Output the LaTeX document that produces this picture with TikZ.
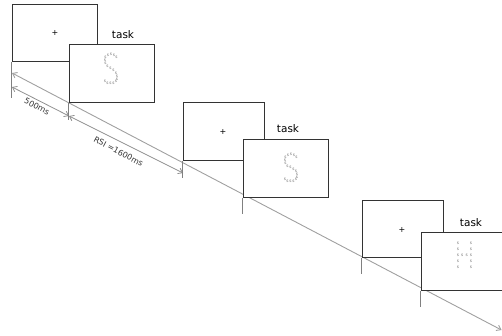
\documentclass[tikz,border=0pt]{standalone}
\usepackage{fontspec}
\setmainfont{DejaVu Sans}
\usetikzlibrary{arrows.meta}
\definecolor{boxc}{HTML}{333333}
\definecolor{linec}{HTML}{A0A0A0}
\definecolor{arrc}{HTML}{909090}
\definecolor{tickc}{HTML}{808080}
\definecolor{dotc}{HTML}{6E6E6E}
\tikzset{
  screen/.style={draw=boxc, line width=0.9pt, fill=white, inner sep=0pt, minimum width=#1, minimum height=57.5pt},
  screen/.default=85pt,
  lbl/.style={font=\fontsize{10.5}{12}\selectfont, text=black, inner sep=0pt},
  fix/.style={font=\fontsize{8}{9}\selectfont, inner sep=0pt},
  dot/.style={font=\fontsize{4.2}{4.2}\selectfont, text=dotc, inner sep=0pt},
  tickline/.style={draw=tickc, line width=0.8pt},
  timeline/.style={draw=linec, line width=0.9pt, {Straight Barb[length=4pt,width=6pt]}-{Straight Barb[length=4pt,width=6pt]}},
  durarrow/.style={draw=arrc, line width=0.8pt, {Straight Barb[length=4pt,width=6pt]}-{Straight Barb[length=4pt,width=6pt]}},
  durlbl/.style={font=\fontsize{8}{9}\selectfont, text=black!80, inner sep=0pt, rotate=-28}
}
\begin{document}
\begin{tikzpicture}[x=1pt,y=-1pt]
\useasboundingbox (0,0) rectangle (502,335);
% timeline and duration arrows
\coordinate (tl0) at (12,73);
\coordinate (tl1) at (501.5,330);
\draw[timeline] (tl0) -- (tl1);
\coordinate (d0) at (12,87);
\coordinate (d1) at (69,116);
\coordinate (d2) at (183,173);
\draw[durarrow] (d0) -- (d1);
\draw[durarrow] (d1) -- (d2);
\node[durlbl] (l500) at (37,106.5) {500ms};
\node[durlbl] (lrsi) at (118.5,151.5) {RSI =1600ms};
% group 1
\node[screen] (f1) at (54.5,33) {};
\node[fix] (p1) at (55,33) {+};
\node[screen] (t1) at (111.5,73.5) {};
\node[lbl] (k1) at (123,35) {task};
\draw[tickline] (f1.south west) -- ++(0,36) coordinate (e1);
\draw[tickline] (t1.south west) -- ++(0,17) coordinate (e2);
\begin{scope}[shift={(111,69)}]
\foreach \x/\y [count=\i] in {-3/-14,0/-14.5,3/-14,5.5/-12,-5.5/-11.5,-6/-8.5,-5.5/-5.5,-3.5/-2.5,-0.5/-0.5,2.5/1.5,5/4,6/7,6/10,5/12.5,2.5/14,-0.5/14.5,-3.5/14,-6/12}
  \node[dot] (sa\i) at (\x,\y) {s};
\end{scope}
% group 2
\node[screen=81pt] (f2) at (223.5,131.5) {};
\node[fix] (p2) at (223,132) {+};
\node[screen] (t2) at (285.5,168.5) {};
\node[lbl] (k2) at (288,129) {task};
\draw[tickline] (f2.south west) -- ++(0,17) coordinate (e3);
\draw[tickline] (t2.south west) -- ++(0,16) coordinate (e4);
\begin{scope}[shift={(291,168)}]
\foreach \x/\y [count=\i] in {-3/-13,0/-13.5,3/-13,5.5/-11,-5.5/-10.5,-6/-7.5,-5.5/-4.5,-3.5/-2,-0.5/-0.5,2.5/1.5,5/3.5,6/6.5,6/9.5,5/11.5,2.5/13,-0.5/13.5,-3.5/13,-6/11}
  \node[dot] (sb\i) at (\x,\y) {s};
\end{scope}
% group 3
\node[screen=81pt] (f3) at (402.5,229) {};
\node[fix] (p3) at (402,230) {+};
\node[screen=81pt] (t3) at (461.5,261.5) {};
\node[lbl] (k3) at (471,223) {task};
\draw[tickline] (f3.south west) -- ++(0,16) coordinate (e5);
\draw[tickline] (t3.south west) -- ++(0,16) coordinate (e6);
\begin{scope}[shift={(464.5,255.5)}]
\foreach \x/\y [count=\i] in {-6.5/-12,-6.5/-6,-6.5/0,-6.5/6,-6.5/12,6.5/-12,6.5/-6,6.5/0,6.5/6,6.5/12,-2.2/0,2.2/0}
  \node[dot] (sh\i) at (\x,\y) {s};
\end{scope}
\end{tikzpicture}
\end{document}
